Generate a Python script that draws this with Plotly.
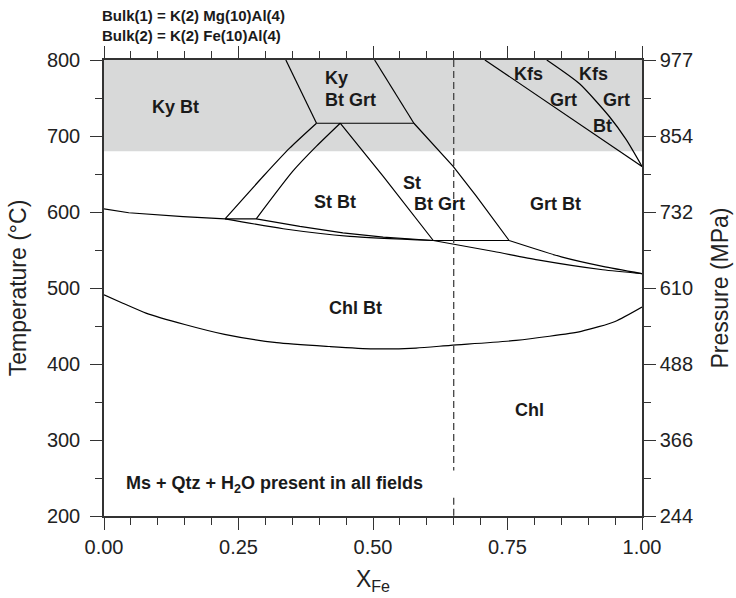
import plotly.graph_objects as go

# ---- axis ticks ----
t_ticks = [200, 300, 400, 500, 600, 700, 800]
t_ticktext = ["200", "300", "400", "500", "600", "700", "800"]
p_ticktext = ["244", "366", "488", "610", "732", "854", "977"]
x_ticks = [0.0, 0.25, 0.5, 0.75, 1.0]
x_ticktext = ["0.00", "0.25", "0.50", "0.75", "1.00"]

# ---- shaded Ky field (temperature limits) ----
ky_band_t = [680, 800]

# ---- phase boundaries (XFe, T in degC) ----
chl_out_x = [0.0, 0.035, 0.078, 0.15, 0.224, 0.321, 0.42, 0.50, 0.58, 0.644, 0.766, 0.887, 0.95, 1.0]
chl_out_t = [491, 480, 467, 452, 439, 428, 423, 420, 421, 424.6, 431, 443, 456, 475]

bt_in_x = [0.0, 0.046, 0.147, 0.225]
bt_in_t = [604, 599, 594, 591]

st_low_x = [0.225, 0.333, 0.457, 0.612]
st_low_t = [591, 578, 568, 562.5]

st_up_x = [0.225, 0.283, 0.364, 0.444, 0.519, 0.612]
st_up_t = [591, 591, 581, 572.5, 567, 562.5]

grt_low_x = [0.612, 0.725, 0.806, 0.927, 1.0]
grt_low_t = [562.5, 548, 537, 524, 519]

st_tie_x = [0.612, 0.753]
st_tie_t = [562.5, 562.5]

grt_bt_x = [0.753, 0.85, 0.927, 1.0]
grt_bt_t = [562.5, 541, 528.5, 519]

ky_left_x = [0.338, 0.395]
ky_left_t = [800, 716.8]

ky_right_x = [0.503, 0.576]
ky_right_t = [800, 716.8]

ky_tie_x = [0.395, 0.576]
ky_tie_t = [716.8, 716.8]

st_ky1_x = [0.395, 0.345, 0.296, 0.225]
st_ky1_t = [716.8, 684, 647, 591]

st_ky2_x = [0.439, 0.395, 0.351, 0.283]
st_ky2_t = [716.8, 686.6, 653.7, 591]

st_grt_x = [0.439, 0.519, 0.612]
st_grt_t = [716.8, 647, 562.5]

st_out_x = [0.576, 0.649, 0.692, 0.753]
st_out_t = [716.8, 660, 621, 562.5]

kfs1_x = [0.708, 0.828, 1.0]
kfs1_t = [800, 742.6, 660]

kfs2_x = [0.823, 0.884, 0.94, 0.971, 1.0]
kfs2_t = [800, 768.7, 725, 694.8, 660]

# dashed reference composition (two pieces)
ref_upper_x = [0.65, 0.65]
ref_upper_t = [800, 260]
ref_lower_x = [0.65, 0.65]
ref_lower_t = [224, 200]

# (x, T, smooth?)
boundaries = [
    (chl_out_x, chl_out_t, True), (bt_in_x, bt_in_t, False), (st_low_x, st_low_t, True),
    (st_up_x, st_up_t, False), (grt_low_x, grt_low_t, True), (st_tie_x, st_tie_t, False),
    (grt_bt_x, grt_bt_t, True), (ky_left_x, ky_left_t, False), (ky_right_x, ky_right_t, False),
    (ky_tie_x, ky_tie_t, False), (st_ky1_x, st_ky1_t, True), (st_ky2_x, st_ky2_t, True),
    (st_grt_x, st_grt_t, False), (st_out_x, st_out_t, False), (kfs1_x, kfs1_t, False),
    (kfs2_x, kfs2_t, True),
]

fig = go.Figure()
for bx, bt, smooth in boundaries:
    ln = dict(color="black", width=1.2)
    if smooth:
        ln.update(shape="spline", smoothing=0.6)
    fig.add_trace(go.Scatter(x=bx, y=bt, mode="lines", line=ln,
                             showlegend=False, hoverinfo="skip"))

for rx, rt in [(ref_upper_x, ref_upper_t), (ref_lower_x, ref_lower_t)]:
    fig.add_trace(go.Scatter(x=rx, y=rt, mode="lines", yaxis="y2",
                             line=dict(color="#444444", width=1.3, dash="7px,4px"),
                             showlegend=False, hoverinfo="skip"))

fig.add_shape(type="rect", xref="x", yref="y", x0=0, x1=1,
              y0=ky_band_t[0], y1=ky_band_t[1],
              fillcolor="#d8d9d9", line=dict(width=0), layer="below")

lab_font = dict(family="Liberation Sans, Arial, sans-serif", size=18, color="#1a1a1a")
labels = [
    ("<b>Ky Bt</b>", 0.132, 738, "center"),
    ("<b>St Bt</b>", 0.43, 613, "center"),
    ("<b>St</b>", 0.572, 638, "center"),
    ("<b>Bt Grt</b>", 0.623, 611, "center"),
    ("<b>Grt Bt</b>", 0.84, 611, "center"),
    ("<b>Kfs</b>", 0.789, 782, "center"),
    ("<b>Grt</b>", 0.854, 747, "center"),
    ("<b>Kfs</b>", 0.91, 782, "center"),
    ("<b>Grt</b>", 0.952, 747, "center"),
    ("<b>Bt</b>", 0.926, 713, "center"),
    ("<b>Chl Bt</b>", 0.467, 474, "center"),
    ("<b>Chl</b>", 0.79, 339, "center"),
    ("<b>Ky</b>", 0.4065, 776, "left"),
    ("<b>Bt Grt</b>", 0.4065, 747, "left"),
    ("<b>Ms + Qtz + H<sub>2</sub>O present in all fields</b>", 0.037, 242, "left"),
]
for txt, lx, ly, anc in labels:
    fig.add_annotation(text=txt, x=lx, y=ly, xref="x", yref="y",
                       xanchor=anc, yanchor="middle", showarrow=False, font=lab_font)

hdr_font = dict(family="Liberation Sans, Arial, sans-serif", size=15, color="#1a1a1a")
fig.add_annotation(text="<b>Bulk(1) = K(2) Mg(10)Al(4)</b>", xref="paper", yref="paper",
                   x=-0.0074, y=1.0965, xanchor="left", yanchor="middle",
                   showarrow=False, font=hdr_font)
fig.add_annotation(text="<b>Bulk(2) = K(2) Fe(10)Al(4)</b>", xref="paper", yref="paper",
                   x=-0.0074, y=1.0548, xanchor="left", yanchor="middle",
                   showarrow=False, font=hdr_font)

axis_col = "#333333"
tick_font = dict(family="Liberation Sans, Arial, sans-serif", size=20, color="#222222")
title_font = dict(family="Liberation Sans, Arial, sans-serif", size=23, color="#222222")

fig.update_layout(
    width=736, height=598,
    margin=dict(l=104, r=94, t=60, b=82, autoexpand=False),
    plot_bgcolor="white", paper_bgcolor="white",
    xaxis=dict(range=[0, 1], tickvals=x_ticks, ticktext=x_ticktext,
               ticks="outside", ticklen=12, tickwidth=1.3, tickcolor=axis_col,
               minor=dict(dtick=0.05, ticks="outside", ticklen=7, tickwidth=1.3, tickcolor=axis_col),
               showline=True, linecolor=axis_col, linewidth=1.5, mirror="ticks",
               showgrid=False, zeroline=False, tickfont=tick_font,
               title=dict(text="X<sub>Fe</sub>", font=title_font, standoff=14)),
    yaxis=dict(range=[200, 800], tickvals=t_ticks, ticktext=t_ticktext,
               ticks="outside", ticklen=12, tickwidth=1.3, tickcolor=axis_col,
               minor=dict(dtick=50, ticks="outside", ticklen=7, tickwidth=1.3, tickcolor=axis_col),
               showline=True, linecolor=axis_col, linewidth=1.5,
               showgrid=False, zeroline=False, tickfont=tick_font,
               ticklabelstandoff=6,
               title=dict(text="Temperature (°C)", font=title_font, standoff=14)),
    yaxis2=dict(range=[200, 800], overlaying="y", side="right",
                tickvals=t_ticks, ticktext=p_ticktext,
                ticks="outside", ticklen=12, tickwidth=1.3, tickcolor=axis_col,
                minor=dict(dtick=50, ticks="outside", ticklen=7, tickwidth=1.3, tickcolor=axis_col),
                showline=True, linecolor=axis_col, linewidth=1.5,
                showgrid=False, zeroline=False, tickfont=tick_font,
                title=dict(text="Pressure (MPa)", font=title_font, standoff=20)),
)

fig.write_html("out.html", config={"displayModeBar": False},
               post_script="document.body.style.margin='0px';document.body.style.overflow='hidden';")
